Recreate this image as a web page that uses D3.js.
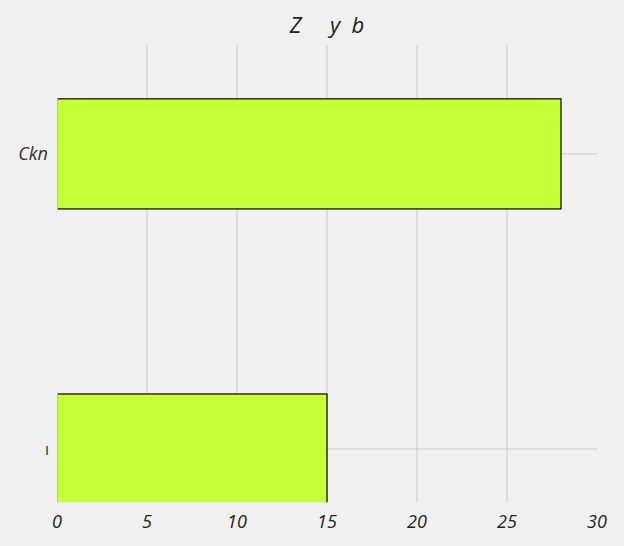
<!DOCTYPE html>
<html><head><meta charset="utf-8">
<script src="https://cdn.jsdelivr.net/npm/d3@7"></script>
<style>body{margin:0;background:#f0f0f0;}svg{display:block;}</style>
</head><body>
<svg id="c" width="624" height="546"></svg>
<script>
const categories = ["ı", "Ckn"];
const values = [15, 28];
const xTicks = [0, 5, 10, 15, 20, 25, 30];
const titleText = "Z     y  b";

const W = 624, H = 546;
const m = {left: 57, right: 27, top: 45, bottom: 43};
const svg = d3.select("#c");
svg.append("rect").attr("width", W).attr("height", H).attr("fill", "#f0f0f0");

const x = d3.scaleLinear().domain([0, 30]).range([m.left, W - m.right]);
const y = d3.scaleLinear().domain([-0.183, 1.369]).range([H - m.bottom, m.top]);
const barH = 0.373;

const font = "'Open Sans', sans-serif";

svg.append("clipPath").attr("id", "plotclip").append("rect")
  .attr("x", m.left + 0.7).attr("y", m.top)
  .attr("width", W - m.left - m.right).attr("height", H - m.top - m.bottom - 0.7);

const g = svg.append("g").attr("clip-path", "url(#plotclip)");
g.selectAll("line.vg").data(xTicks.filter(d => d > 0 && d < 30)).join("line")
  .attr("x1", d => x(d)).attr("x2", d => x(d))
  .attr("y1", m.top).attr("y2", H - m.bottom)
  .attr("stroke", "#cbcbcb").attr("stroke-width", 1);
g.selectAll("line.hg").data(categories).join("line")
  .attr("x1", m.left).attr("x2", W - m.right)
  .attr("y1", (d, i) => y(i)).attr("y2", (d, i) => y(i))
  .attr("stroke", "#cbcbcb").attr("stroke-width", 1);
g.selectAll("rect.bar").data(values).join("rect")
  .attr("x", x(0)).attr("width", d => x(d) - x(0))
  .attr("y", (d, i) => y(i + barH / 2))
  .attr("height", (d, i) => y(i - barH / 2) - y(i + barH / 2))
  .attr("fill", "#c5ff36").attr("stroke", "#000").attr("stroke-width", 1.2);

svg.selectAll("text.xt").data(xTicks).join("text")
  .attr("x", d => x(d)).attr("y", H - m.bottom + 25)
  .attr("text-anchor", "middle")
  .attr("font-family", font).attr("font-style", "italic").attr("font-size", 18)
  .attr("fill", "#222").text(d => d);

svg.selectAll("text.yt").data(categories).join("text")
  .attr("x", (d, i) => i === 0 ? m.left - 8 : m.left - 9).attr("y", (d, i) => y(i))
  .attr("dy", "0.35em").attr("text-anchor", "end")
  .attr("font-family", font).attr("font-style", (d, i) => i === 0 ? "normal" : "italic")
  .attr("font-size", (d, i) => i === 0 ? 16 : 18)
  .attr("fill", "#333").text(d => d);

svg.append("text").attr("x", 327).attr("y", 33)
  .attr("text-anchor", "middle")
  .style("white-space", "pre")
  .attr("font-family", font).attr("font-style", "italic").attr("font-size", 22)
  .attr("fill", "#222").text(titleText);
</script>
</body></html>
